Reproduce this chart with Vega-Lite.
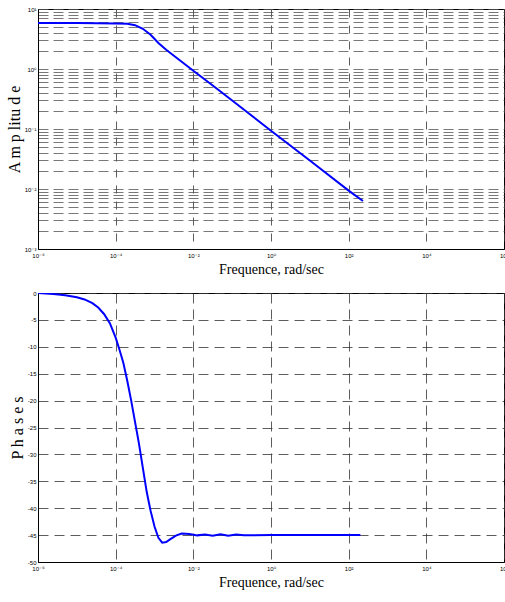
{
  "$schema": "https://vega.github.io/schema/vega-lite/v6.json",
  "padding": {"left": 5, "top": 5, "right": 0, "bottom": 0},
  "spacing": 12,
  "background": "white",
  "config": {
    "view": {"stroke": "black", "strokeWidth": 1},
    "axis": {
      "labelFont": "Liberation Sans, DejaVu Sans",
      "labelFontSize": 6,
      "labelColor": "black",
      "titleFont": "Liberation Serif",
      "titleFontWeight": "normal",
      "titleFontSize": 14,
      "titleColor": "black",
      "domainColor": "black",
      "ticks": false,
      "labelOverlap": false,
      "labelFlush": false,
      "grid": true
    }
  },
  "datasets": {
    "amp": [
      {"w": 1e-6, "a": 5.82},
      {"w": 1e-5, "a": 5.82},
      {"w": 3.16e-5, "a": 5.81},
      {"w": 1e-4, "a": 5.75},
      {"w": 2.0e-4, "a": 5.69},
      {"w": 3.16e-4, "a": 5.37},
      {"w": 5.01e-4, "a": 4.68},
      {"w": 7.94e-4, "a": 3.72},
      {"w": 1.26e-3, "a": 2.72},
      {"w": 2.0e-3, "a": 2.09},
      {"w": 3.16e-3, "a": 1.66},
      {"w": 5.01e-3, "a": 1.32},
      {"w": 1e-2, "a": 0.933},
      {"w": 3.16e-2, "a": 0.53},
      {"w": 0.1, "a": 0.298},
      {"w": 1, "a": 0.0935},
      {"w": 10, "a": 0.0298},
      {"w": 100, "a": 0.0094},
      {"w": 234, "a": 0.0063}
    ],
    "phase": [
      {"w": 1e-6, "p": 0},
      {"w": 2.51e-6, "p": -0.2},
      {"w": 5.01e-6, "p": -0.4},
      {"w": 1e-5, "p": -0.8},
      {"w": 1.58e-5, "p": -1.2},
      {"w": 2.51e-5, "p": -1.9},
      {"w": 3.55e-5, "p": -2.7},
      {"w": 5.01e-5, "p": -3.9},
      {"w": 7.08e-5, "p": -5.6},
      {"w": 1e-4, "p": -8.3},
      {"w": 1.26e-4, "p": -10.6},
      {"w": 1.58e-4, "p": -13},
      {"w": 2.0e-4, "p": -16.4},
      {"w": 2.51e-4, "p": -20},
      {"w": 3.16e-4, "p": -24},
      {"w": 3.98e-4, "p": -28},
      {"w": 5.01e-4, "p": -32.5},
      {"w": 6.31e-4, "p": -37},
      {"w": 7.94e-4, "p": -40.5},
      {"w": 1e-3, "p": -43.4},
      {"w": 1.26e-3, "p": -45.5},
      {"w": 1.58e-3, "p": -46.4},
      {"w": 2.0e-3, "p": -46.3},
      {"w": 2.51e-3, "p": -45.8},
      {"w": 3.55e-3, "p": -45.1},
      {"w": 5.01e-3, "p": -44.7},
      {"w": 7.94e-3, "p": -44.8},
      {"w": 1.26e-2, "p": -45.05},
      {"w": 2.0e-2, "p": -44.9},
      {"w": 3.16e-2, "p": -45.1},
      {"w": 5.01e-2, "p": -44.85},
      {"w": 7.94e-2, "p": -45.1},
      {"w": 0.126, "p": -44.9},
      {"w": 0.2, "p": -45.05},
      {"w": 1, "p": -45},
      {"w": 10, "p": -45},
      {"w": 200, "p": -45}
    ]
  },
  "vconcat": [
    {
      "width": 466,
      "height": 240,
      "data": {"name": "amp"},
      "mark": {"type": "line", "color": "#0000ff", "strokeWidth": 2, "clip": true},
      "encoding": {
        "x": {
          "field": "w", "type": "quantitative",
          "scale": {"type": "log", "domain": [1e-6, 1e6], "nice": false},
          "axis": {
            "title": "Frequence, rad/sec",
            "values": [1e-6, 1e-4, 1e-2, 1, 100, 10000, 1000000],
            "labelExpr": "'10' + replace(replace(replace(replace(replace(replace(replace(replace(''+round(log(datum.value)/LN10),'-','⁻'),'0','⁰'),'1','¹'),'2','²'),'3','³'),'4','⁴'),'5','⁵'),'6','⁶')",
            "labelPadding": 3,
            "titlePadding": 4,
            "gridColor": "#333",
            "gridDash": [8, 8],
            "gridWidth": 0.8,
            "gridOpacity": 1
          }
        },
        "y": {
          "field": "a", "type": "quantitative",
          "scale": {"type": "log", "domain": [0.001, 10], "nice": false},
          "axis": {
            "title": "A m p litu d e",
            "titleFontSize": 16,
            "titlePadding": 2,
            "values": [0.001, 0.002, 0.003, 0.004, 0.005, 0.006, 0.007, 0.008, 0.009, 0.01, 0.02, 0.03, 0.04, 0.05, 0.06, 0.07, 0.08, 0.09, 0.1, 0.2, 0.3, 0.4, 0.5, 0.6, 0.7, 0.8, 0.9, 1, 2, 3, 4, 5, 6, 7, 8, 9, 10],
            "labelExpr": "abs(log(datum.value)/LN10 - round(log(datum.value)/LN10)) < 0.001 ? '10' + replace(replace(replace(replace(replace(''+round(log(datum.value)/LN10),'-','⁻'),'0','⁰'),'1','¹'),'2','²'),'3','³') : ''",
            "labelPadding": 2,
            "gridColor": "#555",
            "gridDash": [10, 5],
            "gridWidth": 0.8,
            "gridOpacity": 1
          }
        }
      }
    },
    {
      "width": 466,
      "height": 269,
      "data": {"name": "phase"},
      "mark": {"type": "line", "color": "#0000ff", "strokeWidth": 2, "clip": true},
      "encoding": {
        "x": {
          "field": "w", "type": "quantitative",
          "scale": {"type": "log", "domain": [1e-6, 1e6], "nice": false},
          "axis": {
            "title": "Frequence, rad/sec",
            "values": [1e-6, 1e-4, 1e-2, 1, 100, 10000, 1000000],
            "labelExpr": "'10' + replace(replace(replace(replace(replace(replace(replace(replace(''+round(log(datum.value)/LN10),'-','⁻'),'0','⁰'),'1','¹'),'2','²'),'3','³'),'4','⁴'),'5','⁵'),'6','⁶')",
            "labelPadding": 3,
            "titlePadding": 4,
            "gridColor": "#333",
            "gridDash": [10, 6],
            "gridWidth": 0.8,
            "gridOpacity": 1
          }
        },
        "y": {
          "field": "p", "type": "quantitative",
          "scale": {"domain": [-50, 0], "nice": false},
          "axis": {
            "title": "P h a s e s",
            "titleFontSize": 16,
            "titlePadding": 2,
            "values": [-50, -45, -40, -35, -30, -25, -20, -15, -10, -5, 0],
            "labelExpr": "'' + datum.value",
            "labelPadding": 2,
            "gridColor": "#333",
            "gridDash": [10, 6],
            "gridWidth": 0.8,
            "gridOpacity": 1
          }
        }
      }
    }
  ]
}
